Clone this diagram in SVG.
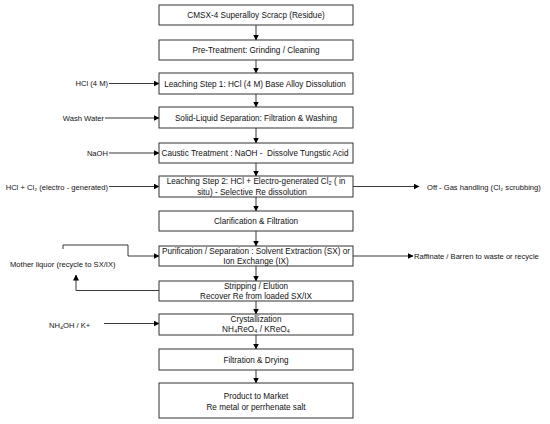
<svg xmlns="http://www.w3.org/2000/svg" width="550" height="424" viewBox="0 0 550 424">
<defs>
<marker id="ah" markerWidth="6" markerHeight="6" refX="5.5" refY="3" orient="auto" markerUnits="userSpaceOnUse">
<path d="M0,0 L6,3 L0,6 Z" fill="#000"/>
</marker>
<style>
.box{fill:#fff;stroke:#333;stroke-width:1}
.t{font-family:"Liberation Sans",Arial,sans-serif;font-size:8.2px;fill:#111;text-anchor:middle}
.s{font-family:"Liberation Sans",Arial,sans-serif;font-size:7.6px;fill:#111}
.e{text-anchor:end}
.c{fill:none;stroke:#222;stroke-width:0.9;marker-end:url(#ah)}
</style>
</defs>
<rect width="550" height="424" fill="#fff"/>
<g id="connectors">
<path class="c" d="M256,25 V40"/>
<path class="c" d="M256,60 V73"/>
<path class="c" d="M256,94 V107"/>
<path class="c" d="M256,128 V143"/>
<path class="c" d="M256,163 V176"/>
<path class="c" d="M256,197 V211"/>
<path class="c" d="M256,231 V246"/>
<path class="c" d="M256,266 V281"/>
<path class="c" d="M256,301 V314"/>
<path class="c" d="M256,335 V349"/>
<path class="c" d="M256,370 V383"/>
<path class="c" d="M109,83.5 H159"/>
<path class="c" d="M105,118 H159"/>
<path class="c" d="M109,153 H159"/>
<path class="c" d="M109,186.5 H159"/>
<path class="c" d="M104,323.5 H159"/>
<path class="c" d="M353,186.5 H419"/>
<path class="c" d="M353,256 H413"/>
<path class="c" d="M63,249 V245 H128 V256 H159"/>
<path class="c" d="M159,290.5 H76 V275"/>
</g>
<g id="labels">
<text class="s e" x="108" y="86">HCl (4 M)</text>
<text class="s e" x="104" y="121">Wash Water</text>
<text class="s e" x="108" y="156">NaOH</text>
<text class="s e" x="108" y="189.5">HCl + Cl₂ (electro - generated)</text>
<text class="s" x="427" y="190">Off - Gas handling (Cl₂ scrubbing)</text>
<text class="s" x="414" y="259">Raffinate / Barren to waste or recycle</text>
<text class="s" x="10" y="266.5">Mother liquor (recycle to SX/IX)</text>
<text class="s" x="49" y="327.5">NH₄OH / K+</text>
</g>
<g id="n1"><rect class="box" x="159" y="5" width="194" height="20"/><text class="t" x="256" y="18">CMSX-4 Superalloy Scracp (Residue)</text></g>
<g id="n2"><rect class="box" x="159" y="40" width="194" height="20"/><text class="t" x="256" y="53">Pre-Treatment: Grinding / Cleaning</text></g>
<g id="n3"><rect class="box" x="159" y="73" width="194" height="21"/><text class="t" x="255" y="86.5">Leaching Step 1: HCl (4 M) Base Alloy Dissolution</text></g>
<g id="n4"><rect class="box" x="159" y="107" width="194" height="21"/><text class="t" x="256" y="120.5">Solid-Liquid Separation: Filtration &amp; Washing</text></g>
<g id="n5"><rect class="box" x="159" y="143" width="194" height="20"/><text class="t" x="255" y="156" xml:space="preserve">Caustic Treatment : NaOH -  Dissolve Tungstic Acid</text></g>
<g id="n6"><rect class="box" x="159" y="176" width="194" height="21"/><text class="t" x="256" y="184">Leaching Step 2: HCl + Electro-generated Cl₂ ( in</text><text class="t" x="252" y="194.5">situ) - Selective Re dissolution</text></g>
<g id="n7"><rect class="box" x="159" y="211" width="194" height="20"/><text class="t" x="256" y="224">Clarification &amp; Filtration</text></g>
<g id="n8"><rect class="box" x="159" y="246" width="194" height="20"/><text class="t" x="256" y="254">Purification / Separation : Solvent Extraction (SX) or</text><text class="t" x="256" y="264">Ion Exchange (IX)</text></g>
<g id="n9"><rect class="box" x="159" y="281" width="194" height="20"/><text class="t" x="256" y="288.5">Stripping / Elution</text><text class="t" x="256" y="298.5">Recover Re from loaded SX/IX</text></g>
<g id="n10"><rect class="box" x="159" y="314" width="194" height="21"/><text class="t" x="256" y="322">Crystallization</text><text class="t" x="256" y="332">NH₄ReO₄ / KReO₄</text></g>
<g id="n11"><rect class="box" x="159" y="349" width="194" height="21"/><text class="t" x="256" y="362.5">Filtration &amp; Drying</text></g>
<g id="n12"><rect class="box" x="159" y="383" width="194" height="35"/><text class="t" x="256" y="399">Product to Market</text><text class="t" x="256" y="409.5">Re metal or perrhenate salt</text></g>
</svg>
